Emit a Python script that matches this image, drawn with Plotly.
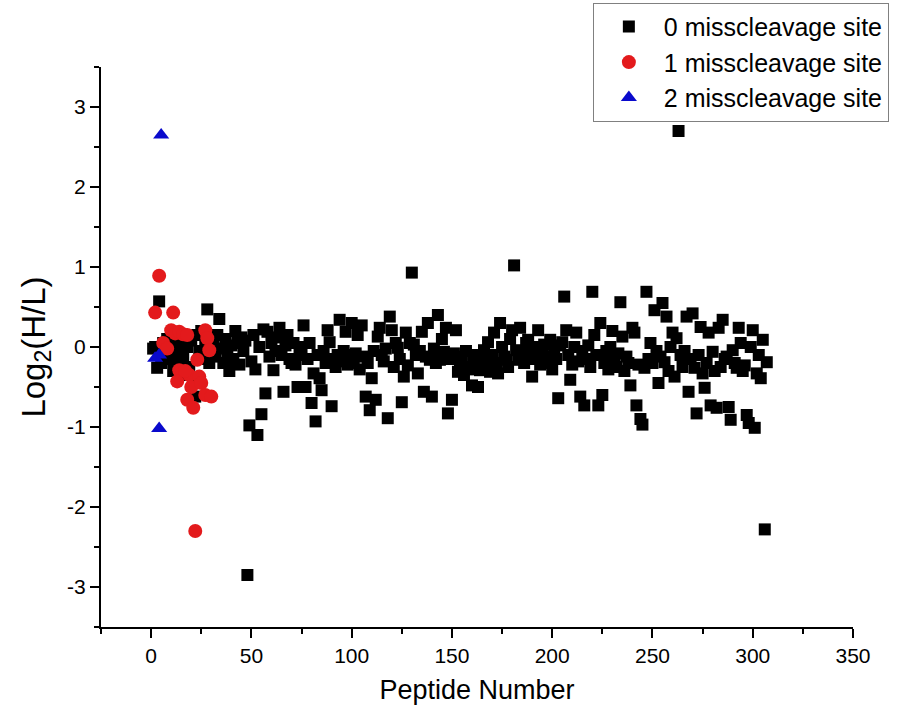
import plotly.graph_objects as go

# peptide numbers for the 0-misscleavage series (one per peptide)
black_x = list(range(1, 308))
black_y = [
    -0.02, 0.0, -0.26, 0.57, -0.2, 0.05, -0.08, 0.1, -0.15, 0.02,
    -0.3, 0.12, -0.05, -0.2, 0.05, -0.1, -0.35, 0.0, -0.25, 0.08,
    -0.45, -0.62, 0.15, -0.05, 0.2, -0.15, 0.1, 0.47, -0.2, 0.0,
    0.05, -0.12, 0.15, 0.35, -0.02, -0.2, 0.1, -0.08, -0.3, 0.02,
    -0.15, 0.2, 0.05, -0.22, 0.12, -0.05, 0.08, -2.85, -0.98, -0.18,
    0.15, -0.28, -1.1, 0.0, -0.84, 0.22, -0.58, 0.19, -0.12, 0.05,
    -0.29, -0.05, 0.12, 0.24, -0.1, -0.56, 0.02, 0.15, -0.15, -0.2,
    0.05, -0.22, -0.5, -0.1, 0.0, 0.27, -0.5, -0.15, 0.05, -0.7,
    -0.33, -0.93, -0.1, -0.39, -0.54, -0.05, -0.2, 0.21, 0.06, -0.74,
    -0.15, -0.25, -0.1, 0.34, -0.18, -0.05, 0.19, -0.22, -0.1, 0.3,
    -0.2, -0.08, 0.15, -0.28, 0.27, -0.12, -0.62, -0.2, -0.79, -0.39,
    -0.05, -0.66, 0.13, 0.24, -0.1, -0.18, -0.02, -0.89, 0.38, 0.21,
    -0.25, 0.05, -0.01, -0.15, -0.69, -0.37, 0.18, -0.23, 0.05, 0.93,
    0.03, -0.1, -0.33, -0.05, 0.19, -0.56, -0.12, 0.3, -0.16, -0.62,
    -0.02, -0.2, 0.4, -0.16, 0.1, -0.06, 0.24, -0.83, -0.15, -0.66,
    -0.08, 0.21, -0.31, -0.2, -0.12, -0.35, -0.05, -0.28, -0.25, -0.48,
    -0.1, -0.2, -0.5, -0.29, -0.15, -0.04, -0.22, 0.06, -0.31, -0.1,
    0.18, -0.2, -0.33, 0.3, 0.0, -0.12, -0.16, -0.25, 0.1, 0.21,
    1.02, -0.04, -0.16, 0.24, -0.1, -0.2, 0.05, 0.09, -0.05, -0.37,
    -0.15, 0.0, 0.21, -0.22, -0.08, 0.03, -0.2, -0.12, 0.09, -0.28,
    -0.05, -0.15, -0.64, 0.02, 0.06, 0.63, 0.21, -0.1, -0.41, -0.22,
    0.0, 0.18, -0.18, -0.62, -0.05, -0.73, -0.15, 0.02, -0.25, 0.69,
    0.15, -0.1, -0.73, 0.3, -0.6, -0.2, -0.05, -0.28, 0.0, 0.2,
    -0.15, -0.25, -0.08, 0.56, 0.13, -0.3, -0.12, -0.2, -0.48, 0.24,
    0.18, -0.73, -0.22, -0.9, -0.97, -0.26, 0.69, -0.15, 0.05, -0.2,
    0.46, -0.05, -0.45, -0.12, 0.55, -0.19, 0.38, -0.3, 0.0, 0.18,
    -0.37, 0.11, 2.7, -0.1, -0.25, -0.05, 0.38, -0.56, -0.15, 0.42,
    -0.26, -0.83, -0.1, 0.25, -0.33, -0.51, -0.2, 0.18, -0.73, -0.06,
    -0.3, -0.76, 0.24, -0.25, 0.34, -0.15, -0.12, -0.75, -0.91, -0.04,
    -0.2, -0.26, 0.24, 0.05, -0.3, -0.23, -0.85, -0.95, 0.0, 0.21,
    -1.01, -0.33, -0.1, -0.39, 0.09, -2.28, -0.19,
]

red_x = [2, 4, 11, 10, 12, 14, 16, 18, 27, 28, 6, 8, 29, 23, 14, 19, 24,
         13, 17, 20, 25, 27, 30, 18, 21, 22]
red_y = [0.43, 0.89, 0.43, 0.21, 0.17, 0.19, 0.16, 0.15, 0.21, 0.11, 0.05,
         -0.02, -0.04, -0.16, -0.29, -0.35, -0.37, -0.43, -0.3, -0.5, -0.45,
         -0.6, -0.62, -0.66, -0.76, -2.3]

blue_x = [5, 2, 4, 4]
blue_y = [2.65, -0.14, -0.1, -1.02]

y_ticks = [-3, -2, -1, 0, 1, 2, 3]
y_labels = ["-3", "-2", "-1", "0", "1", "2", "3"]

FONT = "Liberation Sans, Arial, sans-serif"

fig = go.Figure()
fig.add_trace(go.Scatter(
    x=black_x, y=black_y, mode="markers", name="0 misscleavage site",
    marker=dict(symbol="square", size=12, color="black"),
))
fig.add_trace(go.Scatter(
    x=red_x, y=red_y, mode="markers", name="1 misscleavage site",
    marker=dict(symbol="circle", size=14, color="#E31A1C"),
))
fig.add_trace(go.Scatter(
    x=blue_x, y=blue_y, mode="markers", name="2 misscleavage site",
    marker=dict(symbol="triangle-up", size=14, color="#0A0ACC"),
))

fig.update_layout(
    width=901, height=716,
    margin=dict(l=101, r=48, t=67, b=89, autoexpand=False),
    paper_bgcolor="white", plot_bgcolor="white",
    font=dict(family=FONT, color="black"),
    legend=dict(
        xref="container", yref="container",
        x=0.658, y=0.996, xanchor="left", yanchor="top",
        bordercolor="#808080", borderwidth=1, bgcolor="white",
        font=dict(size=25, family=FONT), itemwidth=60,
        tracegroupgap=0,
    ),
    xaxis=dict(
        range=[-25, 350], dtick=50, tick0=0,
        showline=True, linecolor="black", linewidth=2,
        ticks="outside", ticklen=9, tickwidth=2, tickcolor="black",
        minor=dict(dtick=25, ticks="outside", ticklen=5, tickwidth=2, tickcolor="black"),
        showgrid=False, zeroline=False,
        tickfont=dict(size=21),
        title=dict(text="Peptide Number", font=dict(size=27), standoff=14),
    ),
    yaxis=dict(
        range=[-3.5, 3.5], tickvals=y_ticks, ticktext=y_labels,
        showline=True, linecolor="black", linewidth=2,
        ticks="outside", ticklen=9, tickwidth=2, tickcolor="black",
        minor=dict(dtick=0.5, ticks="outside", ticklen=5, tickwidth=2, tickcolor="black"),
        showgrid=False, zeroline=False,
        tickfont=dict(size=21),
        title=dict(text="Log<sub>2</sub>(H/L)", font=dict(size=33), standoff=12),
    ),
)

# drop the page's default body margin so the figure sits at the window corner
fig.write_html(
    "out.html",
    config={"displayModeBar": False},
    post_script="document.body.style.margin='0px';",
)
